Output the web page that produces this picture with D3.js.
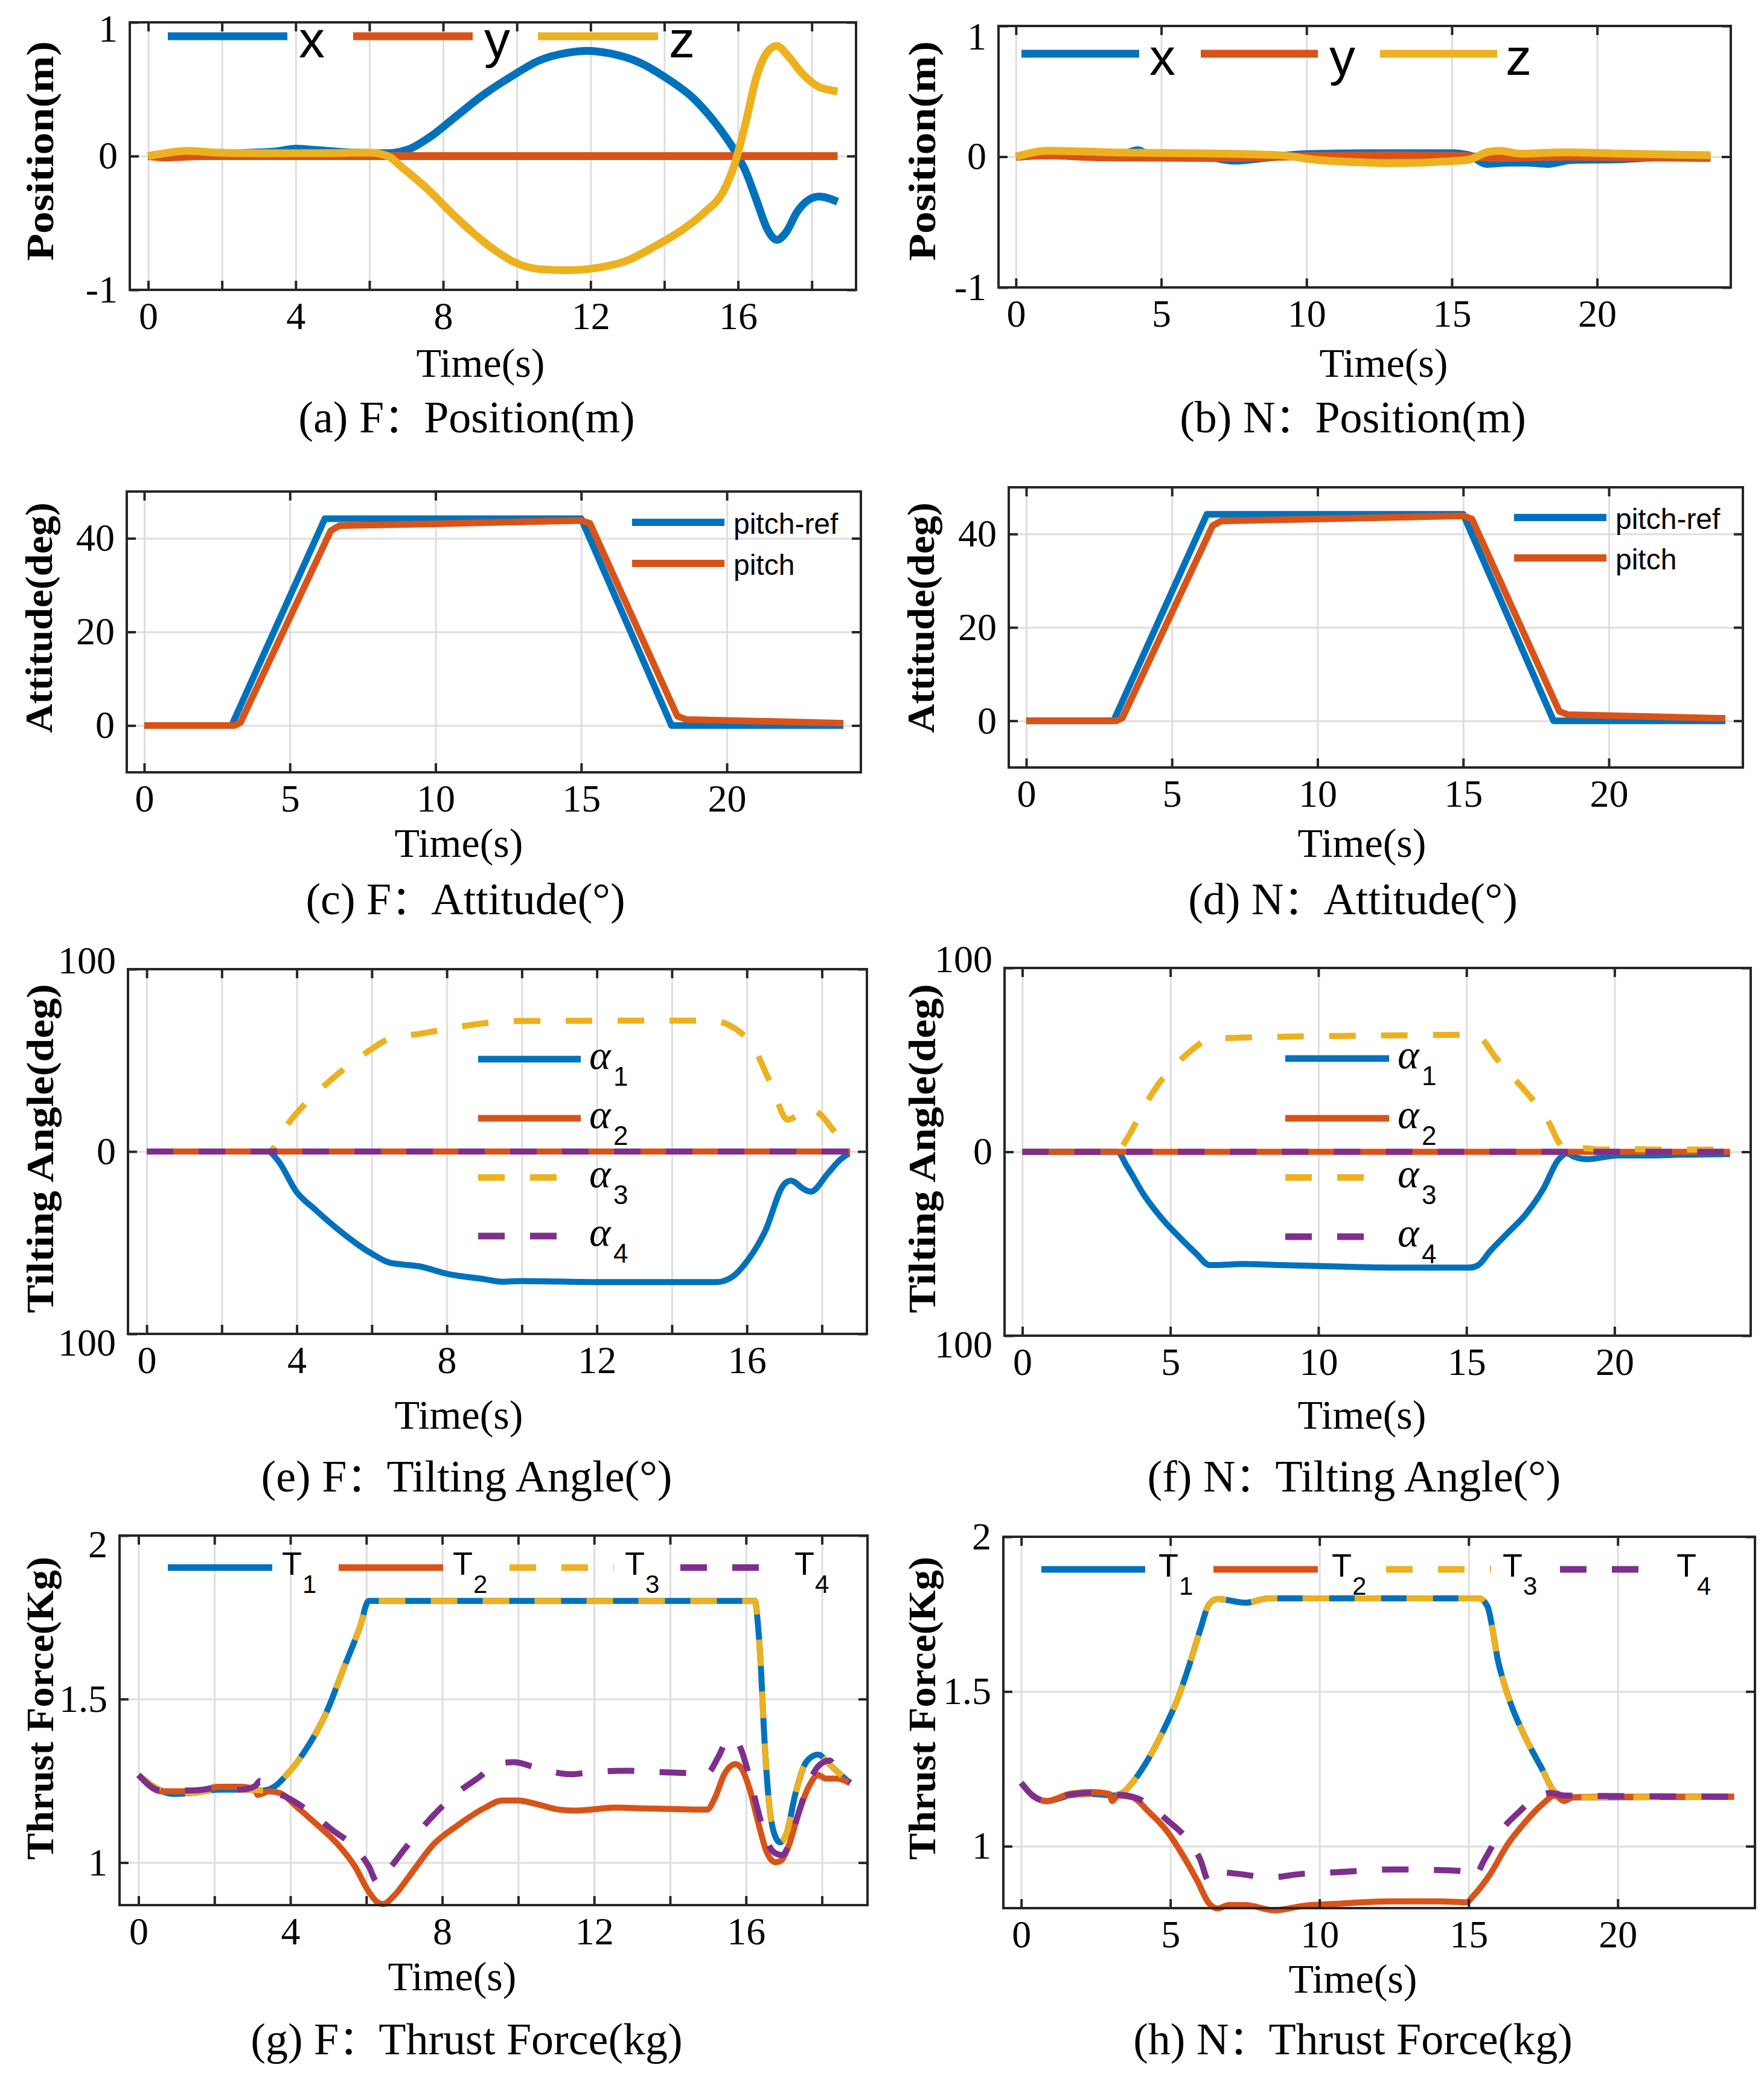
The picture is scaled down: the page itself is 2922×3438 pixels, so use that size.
<!DOCTYPE html>
<html>
<head>
<meta charset="utf-8">
<script src="https://cdn.jsdelivr.net/npm/d3@7"></script>
<style>
  body { margin: 0; background: #fff; }
</style>
</head>
<body>
<svg id="fig" width="2922" height="3438"></svg>
<script>
// ---- data: [time(s), value] ----

// (a) F: position
const aX = [[0,0],[0.6,0.018],[2.2,0.022],[3.4,0.033],[4.0,0.055],[4.6,0.044],[5.6,0.026],[6.5,0.022],[7.1,0.055],[7.7,0.154],[8.3,0.286],[9.1,0.46],[9.9,0.604],[10.6,0.714],[11.4,0.774],[11.9,0.787],[12.5,0.769],[13.3,0.703],[14.0,0.593],[14.8,0.429],[15.4,0.242],[15.9,0.044],[16.2,-0.11],[16.5,-0.33],[16.8,-0.55],[17.05,-0.626],[17.3,-0.571],[17.6,-0.418],[17.9,-0.33],[18.2,-0.303],[18.7,-0.341]]
const aY = [[0,0],[0.5,-0.01],[1.5,0],[18.7,0]]
const aZ = [[0,0],[0.46,0.022],[1.08,0.04],[1.85,0.026],[2.9,0.022],[4.5,0.022],[6.0,0.026],[6.5,0],[6.9,-0.088],[7.56,-0.242],[8.2,-0.418],[8.8,-0.571],[9.4,-0.703],[10.0,-0.802],[10.65,-0.846],[11.4,-0.853],[12.2,-0.835],[13.0,-0.78],[13.7,-0.681],[14.5,-0.549],[15.1,-0.418],[15.6,-0.264],[15.9,-0.066],[16.2,0.242],[16.5,0.593],[16.8,0.78],[17.05,0.824],[17.36,0.747],[17.75,0.615],[18.2,0.516],[18.7,0.484]]

// (b) N: position
const bX = [[0,0],[1,0.01],[3.5,0.01],[4.2,0.05],[4.6,0.01],[6.5,0],[7.5,-0.03],[8.5,-0.01],[10,0.02],[12,0.027],[15,0.027],[15.6,0.01],[16.2,-0.055],[17,-0.045],[17.6,-0.045],[18.3,-0.055],[19.1,-0.025],[20.7,-0.02],[22,-0.005],[23.9,0]]
const bY = [[0,0],[1,0.01],[3,-0.005],[7,-0.01],[10,0.005],[13,0.01],[15.5,0.005],[16.5,-0.01],[19,0],[23.9,-0.01]]
const bZ = [[0,0],[1.08,0.045],[3.2,0.034],[7.2,0.023],[9.1,0.011],[10.3,-0.023],[12.1,-0.045],[13,-0.05],[15,-0.034],[15.6,-0.023],[16.2,0.034],[16.6,0.045],[17.4,0.023],[18.9,0.034],[20.9,0.023],[23.9,0.011]]

// (c) F: attitude
const cRef = [[0,0],[3,0],[6.2,44.2],[15,44.2],[18.1,0],[24,0]]
const cPitch = [[0,0],[3.1,0],[3.3,0.6],[6.4,41.6],[6.7,42.7],[10,43.1],[15,43.8],[15.3,43.2],[18.3,2],[18.6,1.3],[24,0.5]]

// (d) N: attitude
const dRef = [[0,0],[3,0],[6.2,44.2],[15,44.2],[18.1,0],[24,0]]
const dPitch = [[0,0],[3.1,0],[3.3,0.6],[6.4,41.8],[6.7,42.8],[10,43.2],[15,43.9],[15.3,43.2],[18.3,2],[18.6,1.3],[24,0.5]]

// (e) F: tilting angle
const eA1 = [[0,0],[3.24,0],[3.5,-5],[3.99,-22],[4.5,-32],[5.0,-41],[6.0,-56],[6.48,-61],[7.28,-63],[8.0,-67],[9.0,-70],[9.48,-71.4],[9.98,-71],[12,-71.6],[15.19,-71.6],[15.59,-69],[16.01,-60],[16.48,-44],[16.99,-18],[17.17,-16],[17.55,-21],[17.7,-22],[18.16,-12],[18.46,-5],[18.72,-1]]
const eA2 = [[0,0],[18.75,0]]
const eA3 = [[0,0],[3.24,0],[3.85,17.5],[4.31,28],[4.84,38],[5.3,46],[5.98,56],[6.44,61.6],[7.35,64.8],[7.96,67],[8.72,69.6],[9.33,71],[10.1,71.6],[15.04,71.8],[15.72,67],[16.18,57],[16.64,37],[17.09,17.5],[17.32,19.5],[17.63,23.5],[18.0,19.5],[18.31,11.5],[18.6,3.6],[18.77,0.6]]
const eA4 = [[0,0],[18.75,0]]

// (f) N: tilting angle
const fA1 = [[0,0],[3.2,0],[3.55,-8.3],[4.13,-24],[4.7,-36],[5.28,-46],[5.85,-55],[6.33,-61.6],[6.6,-61.6],[7.4,-61],[8.7,-61.6],[10.7,-62.4],[12.6,-63],[15.1,-63],[15.4,-61.6],[15.8,-54],[16.4,-44],[17,-34],[17.6,-20],[18.1,-4.4],[18.4,-0.8],[18.6,-2.4],[19.1,-4],[19.6,-3],[20.1,-2],[21.1,-2],[22.2,-1.6],[23.9,-1.2]]
const fA2 = [[0,0],[23.9,0]]
const fA3 = [[0,0],[3.2,0],[3.55,7.5],[4.13,25],[4.7,39],[5.28,49],[5.85,57],[6.33,61.6],[7.2,62],[8.7,62.6],[10.7,63],[15.1,63.6],[15.4,62.8],[16.0,51],[16.6,40],[17.2,29],[17.8,15.5],[18.1,5.6],[18.3,1.6],[18.7,0.5],[19.0,2],[19.5,1.2],[20.1,1.6],[21.6,1.2],[23.9,1.2]]
const fA4 = [[0,0],[23.9,0]]

// (g) F: thrust
const gT1 = [[0,1.268],[0.45,1.229],[0.9,1.21],[1.5,1.214],[2.1,1.223],[2.7,1.223],[3.3,1.221],[3.6,1.234],[3.9,1.268],[4.34,1.334],[4.94,1.457],[5.39,1.59],[5.84,1.723],[6.06,1.8],[16.24,1.8],[16.3,1.746],[16.4,1.58],[16.47,1.41],[16.6,1.19],[16.77,1.08],[16.9,1.062],[17.07,1.09],[17.3,1.21],[17.6,1.31],[17.9,1.33],[18.2,1.3],[18.5,1.268],[18.74,1.243]]
const gT2 = [[0,1.268],[0.6,1.218],[1.5,1.218],[2.1,1.232],[2.7,1.232],[3.07,1.223],[3.14,1.207],[3.44,1.218],[3.74,1.212],[4.19,1.168],[4.79,1.107],[5.24,1.057],[5.69,0.99],[6.06,0.912],[6.29,0.879],[6.44,0.873],[6.74,0.9],[7.19,0.968],[7.78,1.057],[8.38,1.112],[9.13,1.168],[9.58,1.19],[10.0,1.19],[10.48,1.179],[11.08,1.162],[11.53,1.159],[12.57,1.168],[13.3,1.166],[14.97,1.162],[15.19,1.2],[15.42,1.268],[15.72,1.301],[15.87,1.29],[16.1,1.223],[16.32,1.123],[16.54,1.034],[16.77,1.001],[16.92,1.006],[17.14,1.057],[17.37,1.146],[17.66,1.234],[17.9,1.268],[18.1,1.257],[18.4,1.257],[18.74,1.243]]
const gT3 = [[0,1.268],[0.45,1.229],[0.9,1.21],[1.5,1.214],[2.1,1.223],[2.7,1.223],[3.3,1.221],[3.6,1.234],[3.9,1.268],[4.34,1.334],[4.94,1.457],[5.39,1.59],[5.84,1.723],[6.06,1.8],[16.24,1.8],[16.3,1.746],[16.4,1.58],[16.47,1.41],[16.6,1.19],[16.77,1.08],[16.9,1.062],[17.07,1.09],[17.3,1.21],[17.6,1.31],[17.9,1.33],[18.2,1.3],[18.5,1.268],[18.74,1.243]]
const gT4 = [[0,1.268],[0.6,1.22],[1.5,1.221],[2.1,1.228],[2.7,1.223],[3.07,1.234],[3.2,1.25],[3.44,1.223],[3.9,1.2],[4.49,1.157],[5.1,1.1],[5.7,1.046],[6.06,0.99],[6.29,0.94],[6.59,0.979],[7.04,1.046],[7.78,1.146],[8.38,1.212],[8.98,1.262],[9.43,1.301],[9.88,1.307],[10.48,1.29],[11.38,1.27],[11.96,1.277],[12.86,1.281],[13.6,1.277],[14.97,1.273],[15.27,1.323],[15.5,1.373],[15.72,1.379],[15.87,1.346],[16.1,1.257],[16.32,1.157],[16.54,1.068],[16.77,1.029],[16.95,1.023],[17.14,1.057],[17.37,1.146],[17.66,1.246],[17.96,1.301],[18.2,1.312],[18.4,1.279],[18.74,1.246]]

// (h) N: thrust
const hT1 = [[0,1.205],[0.38,1.164],[0.86,1.146],[1.62,1.164],[2.38,1.169],[3.15,1.164],[3.43,1.175],[3.81,1.216],[4.29,1.287],[4.86,1.393],[5.24,1.475],[5.62,1.581],[6.0,1.699],[6.29,1.781],[6.58,1.799],[7.53,1.787],[8.29,1.801],[15.35,1.801],[15.63,1.775],[16.0,1.593],[16.4,1.464],[16.87,1.358],[17.45,1.252],[17.9,1.175],[18.4,1.158],[23.9,1.16]]
const hT2 = [[0,1.205],[0.38,1.164],[0.86,1.146],[1.62,1.169],[2.38,1.175],[2.95,1.169],[3.05,1.146],[3.24,1.164],[3.72,1.158],[4.29,1.11],[4.86,1.052],[5.43,0.969],[5.91,0.887],[6.29,0.816],[6.58,0.799],[6.96,0.81],[7.53,0.81],[8.48,0.793],[9.44,0.807],[10.58,0.814],[12.49,0.822],[14.0,0.822],[14.93,0.819],[15.16,0.84],[15.73,0.911],[16.3,1.005],[16.87,1.075],[17.45,1.134],[17.9,1.164],[18.2,1.146],[18.5,1.158],[19.35,1.16],[23.9,1.16]]
const hT3 = [[0,1.205],[0.38,1.164],[0.86,1.146],[1.62,1.164],[2.38,1.169],[3.15,1.164],[3.43,1.175],[3.81,1.216],[4.29,1.287],[4.86,1.393],[5.24,1.475],[5.62,1.581],[6.0,1.699],[6.29,1.781],[6.58,1.799],[7.53,1.787],[8.29,1.801],[15.35,1.801],[15.63,1.775],[16.0,1.593],[16.4,1.464],[16.87,1.358],[17.45,1.252],[17.9,1.175],[18.4,1.158],[23.9,1.16]]
const hT4 = [[0,1.205],[0.38,1.164],[0.86,1.146],[1.62,1.166],[2.38,1.172],[3.15,1.167],[3.53,1.164],[4.1,1.146],[4.86,1.087],[5.62,1.016],[6.0,0.958],[6.29,0.887],[6.58,0.916],[7.34,0.91],[8.29,0.899],[9.44,0.911],[10.58,0.916],[12.49,0.925],[14.4,0.922],[14.97,0.916],[15.16,0.899],[15.54,0.958],[16.11,1.052],[16.68,1.11],[17.26,1.158],[17.73,1.172],[18.2,1.164],[23.9,1.16]]

// ---- ticks ----
const fTicks = [0, 2, 4, 6, 8, 10, 12, 14, 16, 18]
const nTicks = [0, 5, 10, 15, 20]
const posTicks = [-1, 0, 1]
const posTickLabels = ['-1', '0', '1']
const attTicks = [0, 20, 40]
const tiltTicks = [-100, 0, 100]
const tiltTickLabels = ['100', '0', '100']
const thrTicks = [1, 1.5, 2]

const xyzNames = ['x', 'y', 'z']
const pitchNames = ['pitch-ref', 'pitch']
const alphaSubs = ['1', '2', '3', '4']
const thrustSubs = ['1', '2', '3', '4']

const C = { blue: '#0072BD', orange: '#D95319', yellow: '#EDB120', purple: '#7E2F8E' }
const DASH = '44,42'

const serif = '"Liberation Serif", "Times New Roman", serif'
const sans = '"Liberation Sans", Arial, sans-serif'
const cjk = '"Noto Sans CJK SC", sans-serif'

const panels = [
    { box: [215, 37, 1418, 480], xDom: [-0.5, 19.2], xTicks: fTicks, xLab: t => t % 4 === 0 ? t : '',
      yDom: [-1, 1], yTicks: posTicks, yLab: posTickLabels, yDy: [0.32, 0.32, 0.49], ylabel: 'Position(m)', ylen: 364, ylx: 66, yly: 250,
      timeX: 796, timeY: 624, cap: ['(a) F', 'Position(m)'], capX: 773, capY: 716, curve: d3.curveMonotoneX, lw: 13,
      series: [[aX, C.blue], [aY, C.orange], [aZ, C.yellow]],
      legend: { kind: 'xyz', y: 60, lines: [[278, 476], [585, 783], [891, 1090]], tx: [495, 802, 1108], base: 95 } },
    { box: [1654, 43, 2867, 476], xDom: [-0.6, 24.6], xTicks: nTicks, xLab: t => t,
      yDom: [-1, 1], yTicks: posTicks, yLab: posTickLabels, yDy: [0.32, 0.32, 0.6], ylabel: 'Position(m)', ylen: 364, ylx: 1527, yly: 250,
      timeX: 2292, timeY: 624, cap: ['(b) N', 'Position(m)'], capX: 2241, capY: 716, curve: d3.curveMonotoneX, lw: 13,
      series: [[bX, C.blue], [bY, C.orange], [bZ, C.yellow]],
      legend: { kind: 'xyz', y: 89, lines: [[1692, 1887], [1989, 2183], [2286, 2480]], tx: [1904, 2202, 2494], base: 124 } },
    { box: [210, 814, 1426, 1279], xDom: [-0.6, 24.6], xTicks: nTicks, xLab: t => t,
      yDom: [-10, 50], yTicks: attTicks, yLab: attTicks.map(String), yDy: [0.32, 0.32, 0.32], ylabel: 'Attitude(deg)', ylen: 382, ylx: 64, yly: 1023,
      timeX: 760, timeY: 1419, cap: ['(c) F', 'Attitude(°)'], capX: 771, capY: 1514, curve: d3.curveLinear, lw: 11,
      series: [[cRef, C.blue], [cPitch, C.orange]],
      legend: { kind: 'pitch', ys: [865, 933], x0: 1047, x1: 1200, tx: 1215 } },
    { box: [1671, 807, 2887, 1271], xDom: [-0.6, 24.6], xTicks: nTicks, xLab: t => t,
      yDom: [-10, 50], yTicks: attTicks, yLab: attTicks.map(String), yDy: [0.32, 0.32, 0.32], ylabel: 'Attitude(deg)', ylen: 382, ylx: 1525, yly: 1023,
      timeX: 2256, timeY: 1419, cap: ['(d) N', 'Attitude(°)'], capX: 2241, capY: 1514, curve: d3.curveLinear, lw: 11,
      series: [[dRef, C.blue], [dPitch, C.orange]],
      legend: { kind: 'pitch', ys: [857, 924], x0: 2508, x1: 2661, tx: 2676 } },
    { box: [212, 1605, 1436, 2209], xDom: [-0.5, 19.2], xTicks: fTicks, xLab: t => t % 4 === 0 ? t : '',
      yDom: [-100, 100], yTicks: tiltTicks, yLab: tiltTickLabels, yDy: [0.55, 0.32, 0.1], ylabel: 'Tilting Angle(deg)', ylen: 545, ylx: 66, yly: 1902,
      timeX: 760, timeY: 2366, cap: ['(e) F', 'Tilting Angle(°)'], capX: 773, capY: 2470, curve: d3.curveMonotoneX, lw: 10,
      series: [[eA1, C.blue], [eA2, C.orange], [eA3, C.yellow, DASH], [eA4, C.purple, DASH]],
      legend: { kind: 'alpha', ys: [1754, 1852, 1950, 2047], x0: 792, x1: 962, tx: 976 } },
    { box: [1664, 1603, 2900, 2212], xDom: [-0.6, 24.6], xTicks: nTicks, xLab: t => t,
      yDom: [-100, 100], yTicks: tiltTicks, yLab: tiltTickLabels, yDy: [0.55, 0.32, 0.1], ylabel: 'Tilting Angle(deg)', ylen: 545, ylx: 1527, yly: 1902,
      timeX: 2256, timeY: 2366, cap: ['(f) N', 'Tilting Angle(°)'], capX: 2243, capY: 2470, curve: d3.curveMonotoneX, lw: 10,
      series: [[fA1, C.blue], [fA2, C.orange], [fA3, C.yellow, DASH], [fA4, C.purple, DASH]],
      legend: { kind: 'alpha', ys: [1753, 1852, 1950, 2048], x0: 2129, x1: 2301, tx: 2315 } },
    { box: [198, 2543, 1437, 3155], xDom: [-0.5, 19.2], xTicks: fTicks, xLab: t => t % 4 === 0 ? t : '',
      yDom: [0.87, 2], yTicks: thrTicks, yLab: thrTicks.map(String), yDy: [0.32, 0.32, 0.55], ylabel: 'Thrust Force(Kg)', ylen: 502, ylx: 66, yly: 2829,
      timeX: 749, timeY: 3296, cap: ['(g) F', 'Thrust Force(kg)'], capX: 773, capY: 3402, curve: d3.curveMonotoneX, lw: 10,
      series: [[gT1, C.blue], [gT2, C.orange], [gT3, C.yellow, DASH], [gT4, C.purple, DASH]],
      legend: { kind: 'thrust', y: 2596, lines: [[278, 451], [561, 734], [844, 1017], [1127, 1292]], tx: [467, 750, 1035, 1316] } },
    { box: [1662, 2545, 2907, 3160], xDom: [-0.6, 24.6], xTicks: nTicks, xLab: t => t,
      yDom: [0.8, 2], yTicks: thrTicks, yLab: thrTicks.map(String), yDy: [0.32, 0.32, 0.32], ylabel: 'Thrust Force(Kg)', ylen: 502, ylx: 1527, yly: 2829,
      timeX: 2241, timeY: 3300, cap: ['(h) N', 'Thrust Force(kg)'], capX: 2241, capY: 3402, curve: d3.curveMonotoneX, lw: 10,
      series: [[hT1, C.blue], [hT2, C.orange], [hT3, C.yellow, DASH], [hT4, C.purple, DASH]],
      legend: { kind: 'thrust', y: 2599, lines: [[1725, 1897], [2010, 2183], [2296, 2470], [2584, 2755]], tx: [1919, 2206, 2489, 2777] } }
]

const svg = d3.select('#fig')
svg.append('rect').attr('width', 2922).attr('height', 3438).attr('fill', '#fff')

panels.forEach(p => {
    const [x0, y0, x1, y1] = p.box
    const x = d3.scaleLinear().domain(p.xDom).range([x0, x1])
    const y = d3.scaleLinear().domain(p.yDom).range([y1, y0])
    const g = svg.append('g')

    // grid
    g.append('g')
        .attr('transform', `translate(0,${y1})`)
        .call(d3.axisBottom(x).tickValues(p.xTicks).tickSize(-(y1 - y0)).tickFormat(''))
        .call(s => s.select('.domain').remove())
        .selectAll('line').attr('stroke', '#dedede').attr('stroke-width', 3)
    g.append('g')
        .attr('transform', `translate(${x0},0)`)
        .call(d3.axisLeft(y).tickValues(p.yTicks).tickSize(-(x1 - x0)).tickFormat(''))
        .call(s => s.select('.domain').remove())
        .selectAll('line').attr('stroke', '#dedede').attr('stroke-width', 3)

    // series
    const line = d3.line().x(d => x(d[0])).y(d => y(d[1])).curve(p.curve)
    p.series.forEach(([data, color, dash]) => {
        g.append('path')
            .datum(data)
            .attr('d', line)
            .attr('fill', 'none')
            .attr('stroke', color)
            .attr('stroke-width', p.lw)
            .attr('stroke-linejoin', 'round')
            .attr('stroke-dasharray', dash || null)
    })

    // axes with inward ticks
    const bottom = g.append('g')
        .attr('transform', `translate(0,${y1})`)
        .call(d3.axisBottom(x).tickValues(p.xTicks).tickSize(-15).tickPadding(20).tickFormat(p.xLab))
    const left = g.append('g')
        .attr('transform', `translate(${x0},0)`)
        .call(d3.axisLeft(y).tickValues(p.yTicks).tickSize(-15).tickPadding(20).tickFormat((d, i) => p.yLab[i]))
    const top = g.append('g')
        .attr('transform', `translate(0,${y0})`)
        .call(d3.axisTop(x).tickValues(p.xTicks).tickSize(-15).tickFormat(''))
    const right = g.append('g')
        .attr('transform', `translate(${x1},0)`)
        .call(d3.axisRight(y).tickValues(p.yTicks).tickSize(-15).tickFormat(''))
    ;[bottom, left, top, right].forEach(a => {
        a.select('.domain').remove()
        a.selectAll('line').attr('stroke', '#262626').attr('stroke-width', 4)
        a.selectAll('text').attr('font-family', serif).attr('font-size', 64).attr('fill', '#000')
    })
    // y labels at the box edges sit slightly off their tick, as in the figure
    left.selectAll('.tick text').attr('dy', (d, i) => p.yDy[i] + 'em')

    g.append('rect')
        .attr('x', x0).attr('y', y0)
        .attr('width', x1 - x0).attr('height', y1 - y0)
        .attr('fill', 'none').attr('stroke', '#262626').attr('stroke-width', 4)

    // labels
    g.append('text')
        .attr('transform', `translate(${p.ylx},${p.yly}) rotate(-90)`)
        .attr('text-anchor', 'middle')
        .attr('dominant-baseline', 'central')
        .attr('font-family', serif).attr('font-weight', 'bold').attr('font-size', 64)
        .attr('textLength', p.ylen).attr('lengthAdjust', 'spacingAndGlyphs')
        .text(p.ylabel)
    g.append('text')
        .attr('x', p.timeX).attr('y', p.timeY)
        .attr('text-anchor', 'middle')
        .attr('font-family', serif).attr('font-size', 68)
        .text('Time(s)')
    const cap = g.append('text')
        .attr('x', p.capX).attr('y', p.capY)
        .attr('text-anchor', 'middle')
        .attr('font-family', serif).attr('font-size', 74)
    cap.append('tspan').text(p.cap[0])
    cap.append('tspan').attr('font-family', cjk).attr('font-size', 66).text('：')
    cap.append('tspan').text(p.cap[1])

    // legends
    const L = p.legend
    if (L.kind === 'xyz') {
        p.series.forEach(([, color], i) => {
            g.append('line')
                .attr('x1', L.lines[i][0]).attr('x2', L.lines[i][1])
                .attr('y1', L.y).attr('y2', L.y)
                .attr('stroke', color).attr('stroke-width', 13)
            g.append('text')
                .attr('x', L.tx[i]).attr('y', L.base)
                .attr('font-family', sans).attr('font-size', 86)
                .text(xyzNames[i])
        })
    } else if (L.kind === 'pitch') {
        p.series.forEach(([, color], i) => {
            g.append('line')
                .attr('x1', L.x0).attr('x2', L.x1)
                .attr('y1', L.ys[i]).attr('y2', L.ys[i])
                .attr('stroke', color).attr('stroke-width', 12)
            g.append('text')
                .attr('x', L.tx).attr('y', L.ys[i] + 19)
                .attr('font-family', sans).attr('font-size', 48)
                .text(pitchNames[i])
        })
    } else if (L.kind === 'alpha') {
        p.series.forEach(([, color, dash], i) => {
            g.append('line')
                .attr('x1', L.x0).attr('x2', L.x1)
                .attr('y1', L.ys[i]).attr('y2', L.ys[i])
                .attr('stroke', color).attr('stroke-width', 11)
                .attr('stroke-dasharray', dash || null)
            g.append('text')
                .attr('x', L.tx).attr('y', L.ys[i] + 16)
                .attr('font-family', serif).attr('font-style', 'italic').attr('font-size', 68)
                .text('α')
            g.append('text')
                .attr('x', L.tx + 40).attr('y', L.ys[i] + 44)
                .attr('font-family', sans).attr('font-size', 44)
                .text(alphaSubs[i])
        })
    } else if (L.kind === 'thrust') {
        p.series.forEach(([, color, dash], i) => {
            g.append('line')
                .attr('x1', L.lines[i][0]).attr('x2', L.lines[i][1])
                .attr('y1', L.y).attr('y2', L.y)
                .attr('stroke', color).attr('stroke-width', 11)
                .attr('stroke-dasharray', dash || null)
            g.append('text')
                .attr('x', L.tx[i]).attr('y', L.y + 12)
                .attr('font-family', sans).attr('font-size', 54)
                .text('T')
            g.append('text')
                .attr('x', L.tx[i] + 34).attr('y', L.y + 42)
                .attr('font-family', sans).attr('font-size', 42)
                .text(thrustSubs[i])
        })
    }
})
</script>
</body>
</html>
